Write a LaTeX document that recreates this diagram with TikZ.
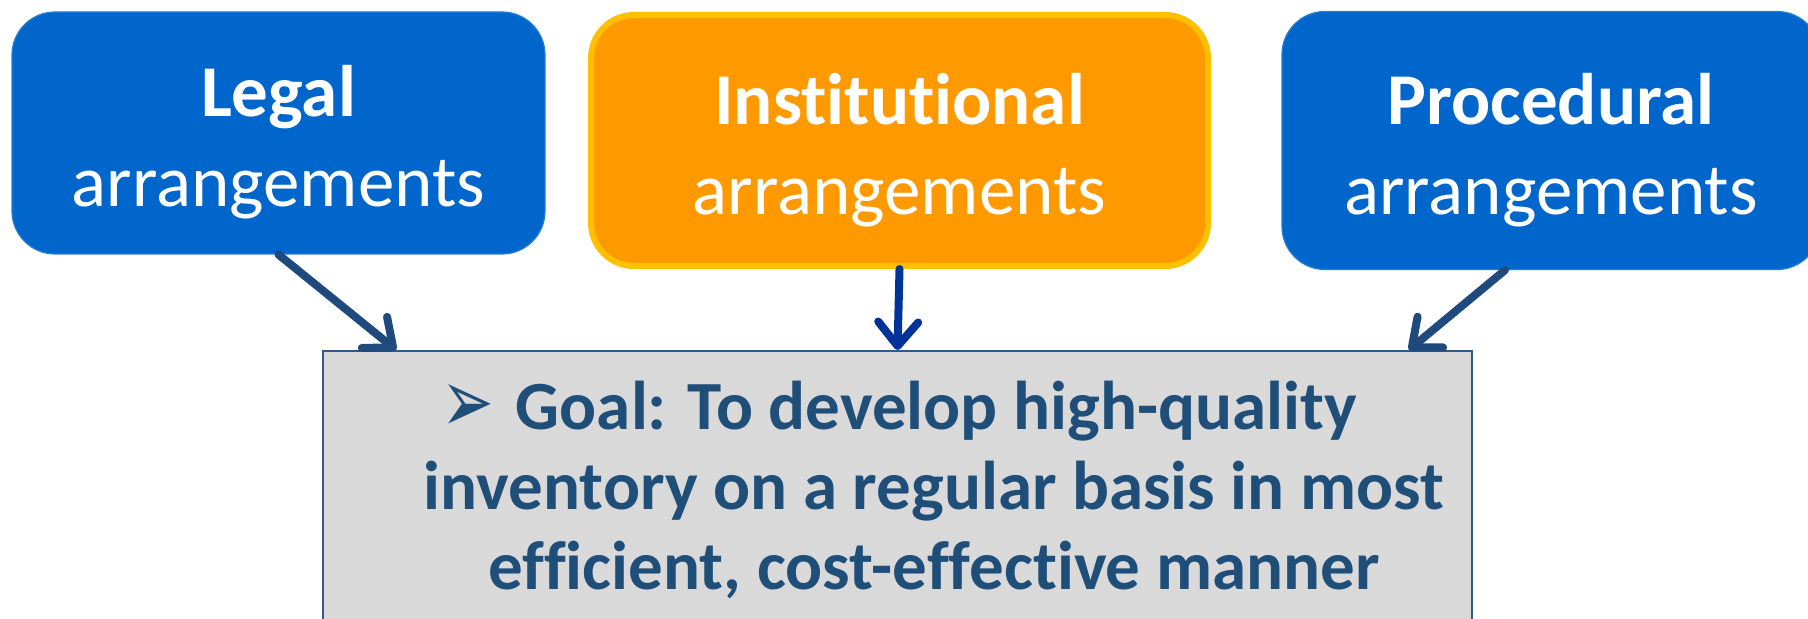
\documentclass[tikz,border=0pt]{standalone}
\usepackage{fontspec}
\setmainfont{Carlito}[Ligatures=NoCommon]
\newfontfamily\dejavu{DejaVu Sans}
\usetikzlibrary{arrows.meta}
\definecolor{boxblue}{HTML}{0066CC}
\definecolor{boxorange}{HTML}{FF9900}
\definecolor{orangeline}{HTML}{FFC000}
\definecolor{goalgray}{HTML}{D9D9D9}
\definecolor{goalblue}{HTML}{1F4E79}
\definecolor{goalborder}{HTML}{2E5A8C}
\definecolor{arrowblue}{HTML}{003399}
\definecolor{arrowslate}{HTML}{1F4A7D}
\newcommand{\boxstrut}{\rule{0pt}{35pt}}
\tikzset{
  arrangement/.style={rounded corners=21.5pt, align=center, text=white, inner sep=0pt,
    font=\fontsize{36.5}{45}\selectfont},
  bluebox/.style={arrangement, fill=boxblue, draw=boxblue!85!white, line width=0.6pt},
  orangebox/.style={arrangement, fill=boxorange, draw=orangeline, line width=3pt},
  link/.style={-{Straight Barb[length=12pt,width=20pt,round,line width=4pt]}, line width=4pt,
    line cap=round, draw=arrowslate},
}
\begin{document}
\begin{tikzpicture}[x=0.5pt,y=-0.5pt]
  \useasboundingbox (0,0) rectangle (1808,619);
  \clip (0,0) rectangle (1808,619);
  \node[bluebox, minimum width=266.5pt, minimum height=121pt] (legal) at (278.5,133)
    {\boxstrut\textbf{Legal}\\arrangements};
  \node[orangebox, minimum width=308.5pt, minimum height=125.5pt] (institutional) at (899.5,140.5)
    {\boxstrut\textbf{Institutional}\\arrangements};
  \node[bluebox, minimum width=269pt, minimum height=129pt] (procedural) at (1551,140.5)
    {\boxstrut\textbf{Procedural}\\arrangements};
  \node[draw=goalborder, fill=goalgray, line width=0.8pt, inner sep=0pt, anchor=north,
    minimum width=574.5pt, minimum height=150pt] (goal) at (897.5,350) {};
  \node[text=goalblue, font=\bfseries\fontsize{34.5}{40}\selectfont, align=center,
    inner sep=0pt, anchor=north] (goaltext) at (899,381)
    {\raisebox{-1.5pt}{\scalebox{1.05}[1.5]{\dejavu\fontsize{30}{40}\selectfont ➢}}\hspace{11pt}Goal: To develop high-quality\\
     \hspace*{35pt}inventory on a regular basis in most\\
     \hspace*{35pt}efficient, cost-effective manner};
  \begin{scope}[link]
    \draw (legal.south) -- ([xshift=37pt]goal.north west);
    \draw[arrowblue] (institutional.south) -- (goal.north);
    \draw ([xshift=-23pt]procedural.south) -- ([xshift=-32pt]goal.north east);
  \end{scope}
\end{tikzpicture}
\end{document}
